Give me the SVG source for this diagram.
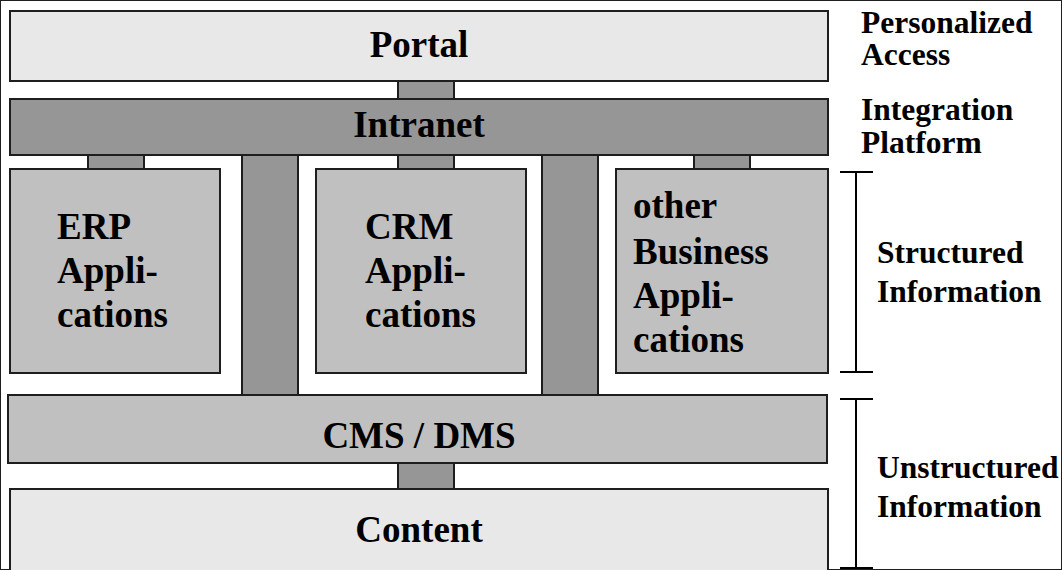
<svg xmlns="http://www.w3.org/2000/svg" width="1062" height="570" viewBox="0 0 1062 570">
<style>
rect{stroke:#1e1e1e;stroke-width:2}
.l1{fill:#e8e8e8}
.dk{fill:#969696}
.md{fill:#c0c0c0}
text{font-family:"Liberation Serif","Times New Roman",serif;font-weight:bold;fill:#000}
.big{font-size:37px}
.c{text-anchor:middle}
.lab{font-size:31.5px}
.br{stroke:#000;stroke-width:2;fill:none}
</style>
<rect width="1062" height="570" fill="#fff" stroke="none"/>
<g id="connectors">
<rect class="dk" x="398" y="78" width="56" height="24"/>
<rect class="dk" x="88" y="152" width="56" height="20"/>
<rect class="dk" x="398" y="152" width="56" height="20"/>
<rect class="dk" x="694" y="152" width="56" height="20"/>
<rect class="dk" x="242" y="152" width="56" height="246"/>
<rect class="dk" x="542" y="152" width="56" height="246"/>
<rect class="dk" x="398" y="460" width="56" height="32"/>
</g>
<g id="portal">
<rect class="l1" x="10" y="11" width="818" height="70"/>
<text class="big c" x="419" y="57">Portal</text>
</g>
<g id="intranet">
<rect class="dk" x="10" y="99" width="818" height="56"/>
<text class="big c" x="419" y="137">Intranet</text>
</g>
<g id="erp">
<rect class="md" x="10" y="169" width="210" height="204"/>
<text class="big" x="57" y="239">ERP</text>
<text class="big" x="57" y="283">Appli-</text>
<text class="big" x="57" y="327">cations</text>
</g>
<g id="crm">
<rect class="md" x="316" y="169" width="210" height="204"/>
<text class="big" x="365" y="239">CRM</text>
<text class="big" x="365" y="283">Appli-</text>
<text class="big" x="365" y="327">cations</text>
</g>
<g id="other">
<rect class="md" x="616" y="169" width="212" height="204"/>
<text class="big" x="633" y="218">other</text>
<text class="big" x="633" y="264">Business</text>
<text class="big" x="633" y="308">Appli-</text>
<text class="big" x="633" y="352">cations</text>
</g>
<g id="cms">
<rect class="md" x="8" y="395" width="819" height="68"/>
<text class="big c" x="419" y="448">CMS / DMS</text>
</g>
<g id="content">
<rect class="l1" x="10" y="489" width="818" height="95"/>
<text class="big c" x="419" y="542">Content</text>
</g>
<g id="labels">
<text class="lab" x="861" y="33">Personalized</text>
<text class="lab" x="861" y="65">Access</text>
<text class="lab" x="861" y="120">Integration</text>
<text class="lab" x="861" y="153">Platform</text>
<text class="lab" x="877" y="263">Structured</text>
<text class="lab" x="877" y="302">Information</text>
<text class="lab" x="877" y="478">Unstructured</text>
<text class="lab" x="877" y="517">Information</text>
</g>
<g id="brackets">
<path class="br" d="M840 172H873M856 172V372M840 372H873"/>
<path class="br" d="M840 399H873M856 399V568M840 568H873"/>
</g>
</svg>
